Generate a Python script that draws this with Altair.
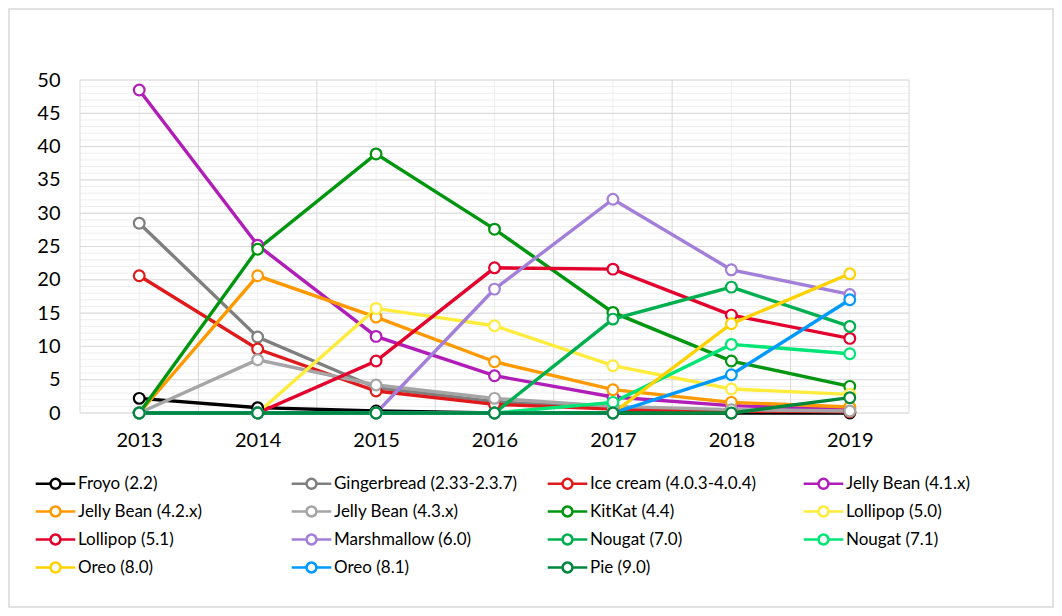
import altair as alt
import pandas as pd

years = [2013, 2014, 2015, 2016, 2017, 2018, 2019]

series_names = [
    "Froyo (2.2)", "Gingerbread (2.33-2.3.7)", "Ice cream (4.0.3-4.0.4)", "Jelly Bean (4.1.x)",
    "Jelly Bean (4.2.x)", "Jelly Bean (4.3.x)", "KitKat (4.4)", "Lollipop (5.0)",
    "Lollipop (5.1)", "Marshmallow (6.0)", "Nougat (7.0)", "Nougat (7.1)",
    "Oreo (8.0)", "Oreo (8.1)", "Pie (9.0)",
]

froyo = [2.2, 0.8, 0.3, 0.0, 0.0, 0.0, 0.0]
gingerbread = [28.5, 11.4, 3.8, 1.7, 0.7, 0.3, 0.2]
ice_cream = [20.6, 9.6, 3.3, 1.3, 0.6, 0.3, 0.2]
jelly_bean_41 = [48.5, 25.2, 11.5, 5.6, 2.4, 1.1, 0.6]
jelly_bean_42 = [0.0, 20.6, 14.4, 7.7, 3.5, 1.6, 0.9]
jelly_bean_43 = [0.0, 8.0, 4.2, 2.2, 1.0, 0.5, 0.3]
kitkat = [0.0, 24.6, 38.9, 27.6, 15.1, 7.8, 4.0]
lollipop_50 = [0.0, 0.0, 15.7, 13.1, 7.1, 3.6, 2.8]
lollipop_51 = [0.0, 0.0, 7.8, 21.8, 21.6, 14.7, 11.2]
marshmallow = [0.0, 0.0, 0.0, 18.6, 32.1, 21.5, 17.8]
nougat_70 = [0.0, 0.0, 0.0, 0.0, 14.1, 18.9, 13.0]
nougat_71 = [0.0, 0.0, 0.0, 0.0, 1.6, 10.3, 8.9]
oreo_80 = [0.0, 0.0, 0.0, 0.0, 0.0, 13.4, 20.9]
oreo_81 = [0.0, 0.0, 0.0, 0.0, 0.0, 5.75, 17.0]
pie = [0.0, 0.0, 0.0, 0.0, 0.0, 0.0, 2.3]

series_values = [
    froyo, gingerbread, ice_cream, jelly_bean_41, jelly_bean_42, jelly_bean_43, kitkat,
    lollipop_50, lollipop_51, marshmallow, nougat_70, nougat_71, oreo_80, oreo_81, pie,
]

series_colors = [
    "#000000", "#7f7f7f", "#e0191b", "#b11db7", "#ff9900", "#a5a5a5", "#00960f",
    "#ffeb3b", "#e3002c", "#a27fd9", "#00b050", "#00e676", "#ffd200", "#0099ff", "#00873d",
]

y_ticks = list(range(0, 51, 5))
y_minor = list(range(0, 51, 1))

rows = []
for i, (name, vals) in enumerate(zip(series_names, series_values)):
    for yr, v in zip(years, vals):
        rows.append({"year": yr, "version": name, "share": v, "idx": i})
df = pd.DataFrame(rows)

x_scale = alt.Scale(domain=[years[0] - 0.5, years[-1] + 0.5], nice=False, zero=False)
y_scale = alt.Scale(domain=[0, 50], nice=False)
color_scale = alt.Scale(domain=series_names, range=series_colors)

FONT = "Lato"
grid_major = "#d9d9d9"
grid_minor = "#eeeeee"

W, H = 829, 333
PAD = {"left": 72, "top": 72, "right": 145, "bottom": 195}

x_axis = alt.Axis(
    values=years, format="d", title=None, grid=False, domain=False, ticks=False,
    labelFont=FONT, labelFontSize=20, labelColor="#000000", labelPadding=17,
)
y_axis = alt.Axis(
    values=y_ticks, title=None, grid=False, domain=False, ticks=False,
    labelFont=FONT, labelFontSize=20, labelColor="#000000", labelPadding=20,
)

minor_h = alt.Chart(pd.DataFrame({"v": y_minor})).mark_rule(color=grid_minor, strokeWidth=1).encode(
    y=alt.Y("v:Q", scale=y_scale, axis=y_axis)
)
center_v = alt.Chart(pd.DataFrame({"v": years})).mark_rule(color=grid_minor, strokeWidth=1).encode(
    x=alt.X("v:Q", scale=x_scale, axis=x_axis)
)
major_h = alt.Chart(pd.DataFrame({"v": y_ticks})).mark_rule(color=grid_major, strokeWidth=1).encode(
    y=alt.Y("v:Q", scale=y_scale, axis=y_axis)
)
bounds_v = alt.Chart(pd.DataFrame({"v": [y - 0.5 for y in years] + [years[-1] + 0.5]})).mark_rule(
    color=grid_major, strokeWidth=1
).encode(x=alt.X("v:Q", scale=x_scale, axis=x_axis))

# chart-area frame (decoration)
frame = alt.Chart(pd.DataFrame({"v": [0]})).mark_rect(
    fill="transparent", stroke="#d9d9d9", strokeWidth=1.5
).encode(
    x=alt.value(-PAD["left"] + 1),
    x2=alt.value(W + PAD["right"] - 1),
    y=alt.value(-PAD["top"] + 1),
    y2=alt.value(H + PAD["bottom"] - 1),
)

legend_path = "M-1.8,0L-0.45,0M0.45,0L1.8,0M0.45,0A0.45,0.45,0,1,1,-0.45,0A0.45,0.45,0,1,1,0.45,0"

color_enc = alt.Color(
    "version:N",
    scale=color_scale,
    legend=alt.Legend(
        title=None,
        orient="none",
        direction="horizontal",
        legendX=-37,
        legendY=391,
        columns=4,
        gridAlign="all",
        columnPadding=24,
        rowPadding=5,
        symbolType=legend_path,
        symbolSize=484,
        symbolStrokeWidth=2.5,
        symbolFillColor="white",
        labelFont=FONT,
        labelFontSize=17,
        labelColor="#000000",
        labelOffset=10,
        labelLimit=400,
        padding=0,
    ),
)

x_enc = alt.X("year:Q", scale=x_scale, axis=x_axis)
y_enc = alt.Y("share:Q", scale=y_scale, axis=y_axis)

lines = alt.Chart(df).mark_line(strokeWidth=3.4).encode(
    x=x_enc, y=y_enc, color=color_enc, detail="version:N", order="year:Q"
)
points = alt.Chart(df).mark_point(
    shape="circle", size=115, strokeWidth=2.2, filled=False, fill="white", fillOpacity=1, opacity=1
).encode(x=x_enc, y=y_enc, color=color_enc)

chart = alt.layer(frame, minor_h, center_v, major_h, bounds_v, lines, points).properties(
    width=W,
    height=H,
    autosize=alt.AutoSizeParams(type="none"),
    padding=PAD,
    background="white",
).configure_view(strokeOpacity=0)

chart.save("out.html", embed_options={"renderer": "svg", "actions": False})
